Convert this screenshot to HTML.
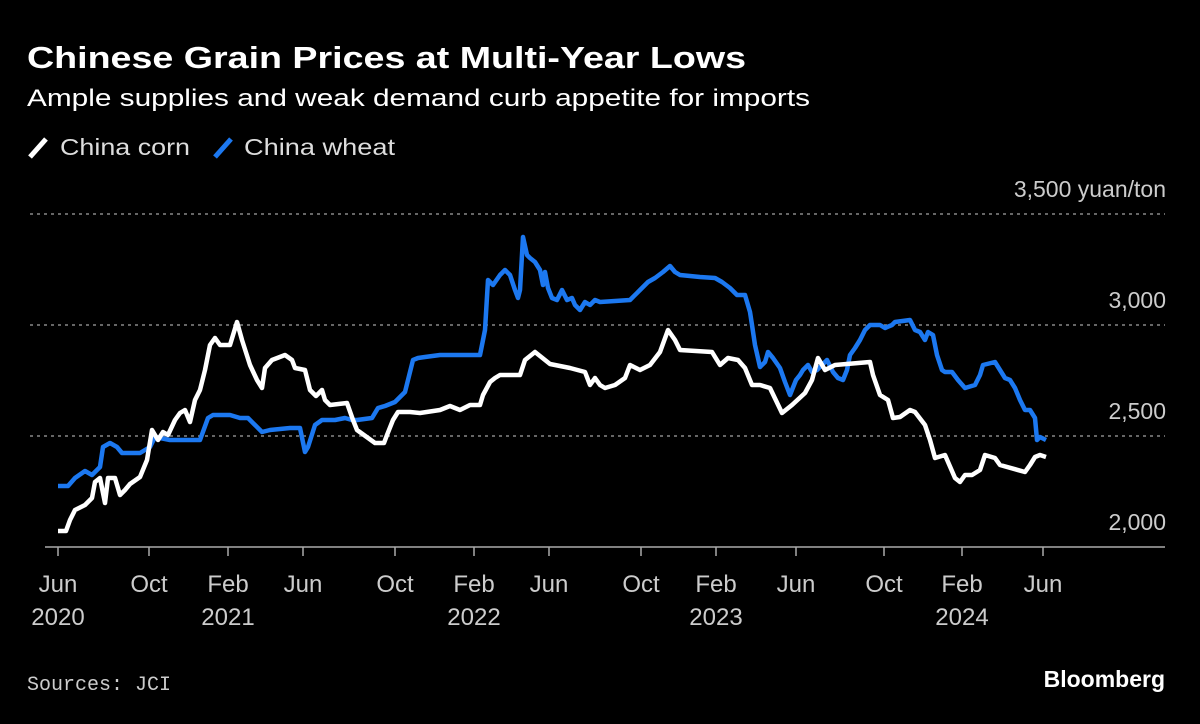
<!DOCTYPE html>
<html><head><meta charset="utf-8"><style>
html,body{margin:0;padding:0;background:#000;}
body{width:1200px;height:719px;overflow:hidden;font-family:"Liberation Sans",sans-serif;}
</style></head><body>
<svg width="1200" height="719" xmlns="http://www.w3.org/2000/svg" font-family="Liberation Sans, sans-serif">
<rect width="1200" height="719" fill="#000"/>
<text x="27" y="68" fill="#fff" font-size="31" font-weight="bold" textLength="719" lengthAdjust="spacingAndGlyphs">Chinese Grain Prices at Multi-Year Lows</text>
<text x="27" y="106" fill="#fff" font-size="24" textLength="783" lengthAdjust="spacingAndGlyphs">Ample supplies and weak demand curb appetite for imports</text>
<line x1="30" y1="157" x2="46" y2="139" stroke="#fff" stroke-width="5"/>
<text x="60" y="155" fill="#ddd" font-size="23" textLength="130" lengthAdjust="spacingAndGlyphs">China corn</text>
<line x1="215" y1="157" x2="231" y2="139" stroke="#1c78f0" stroke-width="5"/>
<text x="244" y="155" fill="#ddd" font-size="23" textLength="151" lengthAdjust="spacingAndGlyphs">China wheat</text>
<g stroke="#888" stroke-width="1.5" stroke-dasharray="3,4">
<line x1="30" y1="214" x2="1165" y2="214"/>
<line x1="30" y1="325" x2="1165" y2="325"/>
<line x1="30" y1="436" x2="1165" y2="436"/>
</g>
<line x1="45" y1="547" x2="1165" y2="547" stroke="#aaa" stroke-width="1.5"/>
<g fill="#ccc" font-size="23" text-anchor="end">
<text x="1166" y="197">3,500 yuan/ton</text>
<text x="1166" y="308">3,000</text>
<text x="1166" y="419">2,500</text>
<text x="1166" y="530">2,000</text>
</g>
<g stroke="#aaa" stroke-width="1.5">
<line x1="58" y1="547" x2="58" y2="556"/><line x1="149" y1="547" x2="149" y2="556"/><line x1="228" y1="547" x2="228" y2="556"/><line x1="303" y1="547" x2="303" y2="556"/><line x1="395" y1="547" x2="395" y2="556"/><line x1="474" y1="547" x2="474" y2="556"/><line x1="549" y1="547" x2="549" y2="556"/><line x1="641" y1="547" x2="641" y2="556"/><line x1="716" y1="547" x2="716" y2="556"/><line x1="796" y1="547" x2="796" y2="556"/><line x1="884" y1="547" x2="884" y2="556"/><line x1="962" y1="547" x2="962" y2="556"/><line x1="1043" y1="547" x2="1043" y2="556"/>
</g>
<g fill="#ccc" font-size="24" text-anchor="middle">
<text x="58" y="592">Jun</text><text x="58" y="625">2020</text>
<text x="149" y="592">Oct</text>
<text x="228" y="592">Feb</text><text x="228" y="625">2021</text>
<text x="303" y="592">Jun</text>
<text x="395" y="592">Oct</text>
<text x="474" y="592">Feb</text><text x="474" y="625">2022</text>
<text x="549" y="592">Jun</text>
<text x="641" y="592">Oct</text>
<text x="716" y="592">Feb</text><text x="716" y="625">2023</text>
<text x="796" y="592">Jun</text>
<text x="884" y="592">Oct</text>
<text x="962" y="592">Feb</text><text x="962" y="625">2024</text>
<text x="1043" y="592">Jun</text>
</g>
<polyline fill="none" stroke="#1c78f0" stroke-width="4.5" stroke-linejoin="round" points="58,486 68,486 75,478 85,471 92,475 100,467 103,447 110,443 117,447 122,453 140,453 150,447 155,437 170,440 200,440 208,418 213,415 230,415 240,418 248,418 255,425 262,432 270,430 290,428 300,428 305,452 308,447 315,425 322,420 335,420 345,418 352,420 357,420 372,418 378,408 385,406 395,402 405,392 408,380 413,360 418,358 425,357 440,355 452,355 460,355 480,355 485,330 488,280 493,285 500,275 505,270 510,275 515,290 518,298 520,290 523,237 527,255 530,258 535,262 540,270 543,285 545,272 548,288 552,298 557,300 562,290 567,300 572,298 575,305 580,310 585,302 590,305 595,300 600,302 630,300 640,290 648,282 655,278 663,272 670,266 675,272 680,275 700,277 715,278 722,282 730,288 737,295 745,295 750,312 752,325 755,345 760,367 765,362 768,352 773,358 780,368 785,382 790,395 796,380 800,375 803,370 808,365 812,372 817,370 822,365 827,360 833,372 838,378 843,380 847,370 850,355 855,348 860,340 865,330 870,325 880,325 885,328 892,325 895,322 910,320 915,330 920,332 925,340 928,332 933,335 937,355 942,370 945,372 952,372 958,380 965,388 975,385 980,375 983,365 995,362 1000,370 1005,378 1010,380 1015,388 1020,400 1025,410 1030,410 1035,418 1037,440 1040,437 1046,440"/>
<polyline fill="none" stroke="#fff" stroke-width="4.5" stroke-linejoin="round" points="58,531 66,531 70,520 75,510 85,505 92,498 95,482 100,478 105,503 108,478 115,478 120,495 125,490 130,484 140,477 147,460 152,430 158,440 163,432 168,435 175,420 180,413 185,410 190,422 195,400 200,390 205,370 210,345 215,338 220,345 230,345 237,322 242,340 250,365 257,380 262,388 265,368 272,360 285,355 292,360 295,368 305,370 310,390 316,396 322,390 325,400 330,405 347,403 353,420 357,430 375,443 384,443 387,435 393,420 398,412 410,412 420,413 440,410 450,406 460,410 470,405 480,405 483,395 490,382 495,378 500,375 520,375 525,360 535,352 545,360 550,364 570,368 585,372 590,385 595,378 600,385 605,388 615,385 625,378 630,365 640,370 650,365 660,352 668,330 675,340 680,350 712,352 720,365 728,358 738,360 745,368 752,385 760,385 770,388 782,413 792,405 805,393 812,380 818,358 825,370 835,365 870,362 873,375 880,395 888,400 893,418 900,417 910,410 915,412 925,425 930,440 935,458 945,455 955,478 960,482 965,475 972,475 980,470 985,455 995,458 1000,465 1025,472 1030,465 1035,457 1040,455 1046,457"/>
<text x="27" y="690" fill="#ccc" font-size="20" font-family="Liberation Mono, monospace">Sources: JCI</text>
<text x="1165" y="687" fill="#fff" font-size="23" font-weight="bold" text-anchor="end">Bloomberg</text>
</svg>
</body></html>
